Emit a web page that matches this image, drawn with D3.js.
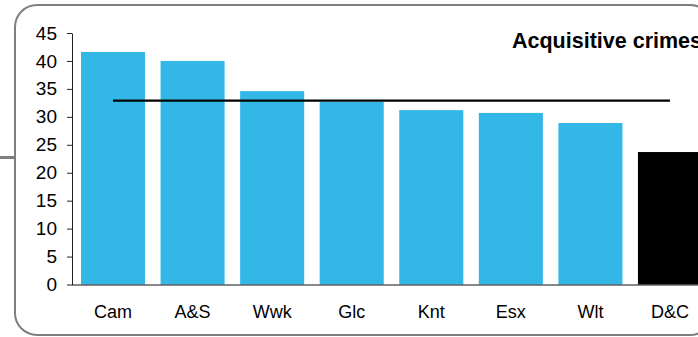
<!DOCTYPE html>
<html>
<head>
<meta charset="utf-8">
<script src="https://cdn.jsdelivr.net/npm/d3@7"></script>
<style>
  html, body { margin: 0; padding: 0; background: #fff; }
  svg { display: block; font-family: "Liberation Sans", Arial, sans-serif; }
</style>
</head>
<body>
<script>
const categories = ["Cam", "A&S", "Wwk", "Glc", "Knt", "Esx", "Wlt", "D&C"];
const values = [41.6, 40.0, 34.6, 32.7, 31.2, 30.7, 28.9, 23.7];
const highlight = ["D&C"];
const averageValue = [32.9, 32.9, 32.9, 32.9, 32.9, 32.9, 32.9, 32.9];
const yTicks = [0, 5, 10, 15, 20, 25, 30, 35, 40, 45];
const title = "Acquisitive crimes";

const W = 698, H = 337;
const svg = d3.select("body").append("svg").attr("width", W).attr("height", H);

// frame
svg.append("rect")
  .attr("x", 15).attr("y", 5).attr("width", 697).attr("height", 330)
  .attr("rx", 22).attr("ry", 22)
  .attr("fill", "none").attr("stroke", "#7f7f7f").attr("stroke-width", 2);
svg.append("line")
  .attr("x1", 0).attr("x2", 15).attr("y1", 157.5).attr("y2", 157.5)
  .attr("stroke", "#7f7f7f").attr("stroke-width", 3);

const x0 = 72;
const x = d3.scaleBand().domain(categories).range([x0, 711])
  .paddingInner(0.195).paddingOuter(0.113);
const y = d3.scaleLinear().domain([0, 45]).range([284.5, 33]);

// bars
svg.append("g").selectAll("rect").data(categories).join("rect")
  .attr("x", d => x(d))
  .attr("y", (d, i) => y(values[i]))
  .attr("width", x.bandwidth())
  .attr("height", (d, i) => y(0) - y(values[i]))
  .attr("fill", d => highlight.includes(d) ? "#000000" : "#33b7e7");

// average line
const line = d3.line()
  .x((d, i) => x(categories[i]) + x.bandwidth() / 2)
  .y(d => y(d));
svg.append("path").datum(averageValue)
  .attr("d", line).attr("fill", "none")
  .attr("stroke", "#000").attr("stroke-width", 2.2);

// y axis
const yAxis = svg.append("g").attr("transform", `translate(${x0},0)`)
  .call(d3.axisLeft(y).tickValues(yTicks).tickSizeInner(5).tickSizeOuter(0).tickPadding(10));
yAxis.select(".domain").attr("stroke", "#222");
yAxis.selectAll(".tick line").attr("stroke", "#222");
yAxis.selectAll("text").attr("font-size", 19).attr("fill", "#000")
  .attr("font-family", "Liberation Sans, Arial, sans-serif");

// x axis
const xAxis = svg.append("g").attr("transform", `translate(0,${y(0)})`)
  .call(d3.axisBottom(x).tickSize(0).tickPadding(21));
xAxis.select(".domain").attr("stroke", "#111").attr("d", `M${x0},0.5H711`);
xAxis.selectAll("text").attr("font-size", 18).attr("fill", "#000")
  .attr("font-family", "Liberation Sans, Arial, sans-serif");

// title
svg.append("text")
  .attr("x", 512).attr("y", 48)
  .attr("font-size", 21.5).attr("font-weight", "bold").attr("fill", "#000")
  .text(title);
</script>
</body>
</html>
